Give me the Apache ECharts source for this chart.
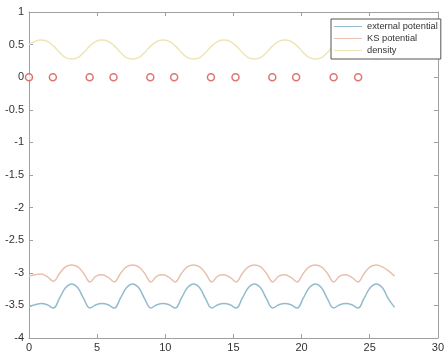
<!DOCTYPE html>
<html>
<head>
<meta charset="utf-8">
<script src="https://cdn.jsdelivr.net/npm/echarts@6/dist/echarts.min.js"></script>
<style>html,body{margin:0;padding:0;background:#fff;}#c{width:447px;height:356px;}</style>
</head>
<body>
<div id="c"></div>
<script>
var xs = [0,0.45,0.89,1.34,1.79,2.24,2.68,3.13,3.58,4.02,
  4.47,4.92,5.36,5.81,6.26,6.71,7.15,7.60,8.05,8.49,
  8.94,9.39,9.83,10.28,10.73,11.18,11.62,12.07,12.52,12.96,
  13.41,13.86,14.30,14.75,15.20,15.65,16.09,16.54,16.99,17.43,
  17.88,18.33,18.77,19.22,19.67,20.12,20.56,21.01,21.46,21.90,
  22.35,22.80,23.24,23.69,24.14,24.59,25.03,25.48,25.93,26.37,26.82];
var extPot = [-3.52,-3.49,-3.47,-3.49,-3.54,-3.39,-3.23,-3.17,-3.23,-3.40,
  -3.54,-3.49,-3.47,-3.49,-3.54,-3.39,-3.23,-3.17,-3.23,-3.40,
  -3.54,-3.49,-3.47,-3.49,-3.54,-3.39,-3.23,-3.17,-3.23,-3.40,
  -3.54,-3.49,-3.47,-3.49,-3.54,-3.39,-3.23,-3.17,-3.23,-3.40,
  -3.54,-3.49,-3.47,-3.49,-3.54,-3.39,-3.23,-3.17,-3.23,-3.40,
  -3.54,-3.49,-3.47,-3.49,-3.54,-3.39,-3.23,-3.17,-3.23,-3.40,-3.53];
var ksPot = [-3.05,-3.03,-3.02,-3.06,-3.13,-3.01,-2.91,-2.88,-2.91,-3.01,
  -3.14,-3.05,-3.03,-3.07,-3.14,-3.01,-2.91,-2.88,-2.91,-3.01,
  -3.14,-3.05,-3.03,-3.07,-3.14,-3.01,-2.91,-2.88,-2.91,-3.01,
  -3.14,-3.05,-3.03,-3.07,-3.14,-3.01,-2.91,-2.88,-2.91,-3.01,
  -3.14,-3.05,-3.03,-3.07,-3.14,-3.01,-2.91,-2.88,-2.91,-3.01,
  -3.14,-3.05,-3.03,-3.07,-3.14,-3.01,-2.91,-2.88,-2.91,-2.97,-3.05];
var density = [0.50,0.55,0.57,0.55,0.48,0.38,0.30,0.28,0.30,0.38,
  0.48,0.55,0.57,0.55,0.48,0.38,0.30,0.28,0.30,0.38,
  0.48,0.55,0.57,0.55,0.48,0.38,0.30,0.28,0.30,0.38,
  0.48,0.55,0.57,0.55,0.48,0.38,0.30,0.28,0.30,0.38,
  0.48,0.55,0.57,0.55,0.48,0.38,0.30,0.28,0.30,0.38,
  0.48,0.55,0.57,0.55,0.48,0.38,0.30,0.28,0.30,0.38,0.48];
var atomX = [0,1.75,4.45,6.2,8.9,10.65,13.35,15.15,17.85,19.6,22.35,24.15];
var atomY = [0,0,0,0,0,0,0,0,0,0,0,0];
var names = ['external potential','KS potential','density'];

function pairs(x, y){ return x.map(function(v,i){ return [v, y[i]]; }); }

var chart = echarts.init(document.getElementById('c'), null, {renderer:'canvas'});
var axisCol = '#a0a0a0';
var lblCol = '#333';
var fontFam = 'Helvetica, Arial, "Liberation Sans", sans-serif';
chart.setOption({
  animation:false,
  backgroundColor:'#fff',
  grid:{left:29, top:12, right:3, bottom:18},
  legend:{
    data:names, orient:'vertical', left:331, top:19,
    itemWidth:28, itemHeight:1, icon:'rect', itemGap:1,
    borderColor:'#555', borderWidth:1, backgroundColor:'#fff',
    padding:[2,3,3,3],
    textStyle:{fontSize:9.3, color:'#333', lineHeight:11, fontFamily:fontFam}
  },
  xAxis:[{
    type:'value', min:0, max:30, interval:5,
    axisLine:{onZero:false, lineStyle:{color:axisCol}},
    axisTick:{inside:true, length:4, lineStyle:{color:axisCol}},
    axisLabel:{color:lblCol, fontSize:11, margin:4, fontFamily:fontFam},
    splitLine:{show:false}
  },{
    type:'value', min:0, max:30, interval:5, position:'top',
    axisLine:{onZero:false, lineStyle:{color:axisCol}},
    axisTick:{inside:true, length:4, lineStyle:{color:axisCol}},
    axisLabel:{show:false}, splitLine:{show:false}
  }],
  yAxis:[{
    type:'value', min:-4, max:1, interval:0.5,
    axisLine:{show:true, onZero:false, lineStyle:{color:axisCol}},
    axisTick:{show:true, inside:true, length:4, lineStyle:{color:axisCol}},
    axisLabel:{color:lblCol, fontSize:11, margin:5, fontFamily:fontFam},
    splitLine:{show:false}
  },{
    type:'value', min:-4, max:1, interval:0.5, position:'right',
    axisLine:{show:true, onZero:false, lineStyle:{color:axisCol}},
    axisTick:{show:true, inside:true, length:4, lineStyle:{color:axisCol}},
    axisLabel:{show:false}, splitLine:{show:false}
  }],
  series:[
    {name:names[0], type:'line', data:pairs(xs, extPot), smooth:0.4, showSymbol:false,
     lineStyle:{color:'#92bccd', width:1.5}, itemStyle:{color:'#92bccd'}},
    {name:names[1], type:'line', data:pairs(xs, ksPot), smooth:0.4, showSymbol:false,
     lineStyle:{color:'#e9c0ae', width:1.5}, itemStyle:{color:'#e9c0ae'}},
    {name:names[2], type:'line', data:pairs(xs, density), smooth:0.4, showSymbol:false,
     lineStyle:{color:'#eee5b4', width:1.5}, itemStyle:{color:'#eee5b4'}},
    {name:'atoms', type:'scatter', data:pairs(atomX, atomY), symbol:'circle', symbolSize:7,
     itemStyle:{color:'#fff', borderColor:'#d2514f', borderWidth:1.5}}
  ]
});
</script>
</body>
</html>
